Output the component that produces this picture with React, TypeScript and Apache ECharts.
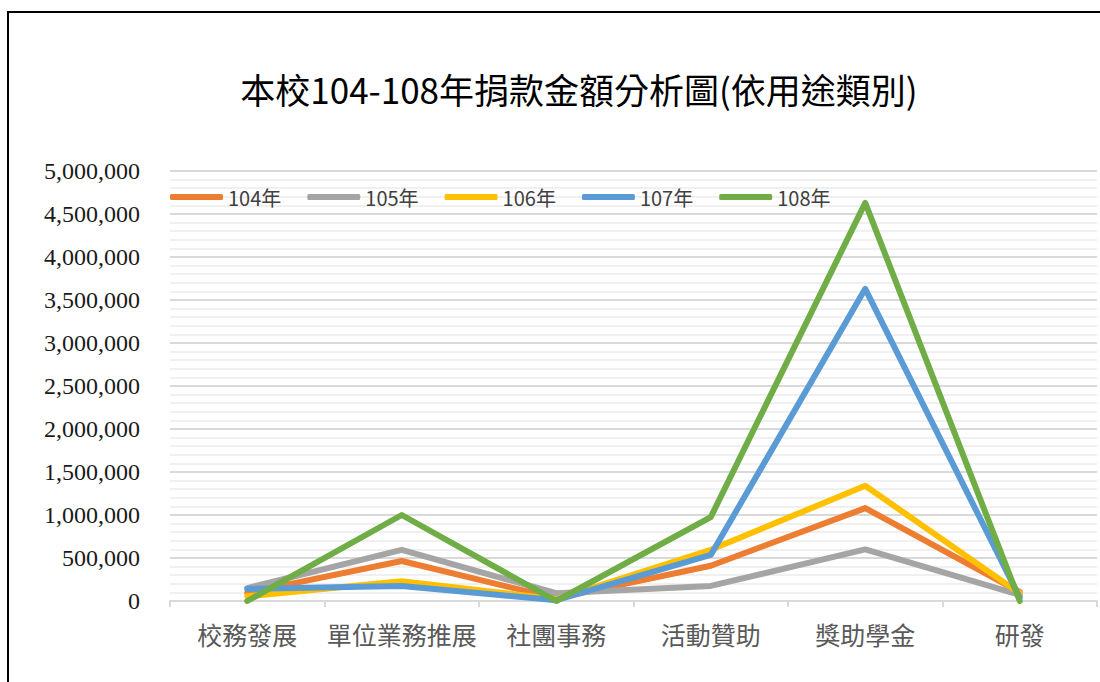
import React, { useEffect, useRef } from "react";
import * as echarts from "echarts";

const categories = ["校務發展", "單位業務推展", "社團事務", "活動贊助", "獎助學金", "研發"];
const seriesNames = ["104年", "105年", "106年", "107年", "108年"];
const y104 = [95000, 465000, 30000, 410000, 1080000, 105000];
const y105 = [150000, 595000, 90000, 175000, 600000, 70000];
const y106 = [55000, 230000, 20000, 595000, 1340000, 90000];
const y107 = [140000, 175000, 10000, 535000, 3630000, 40000];
const y108 = [0, 1000000, 0, 975000, 4630000, 0];
const colors = ["#ED7D31", "#A5A5A5", "#FFC000", "#5B9BD5", "#70AD47"];
const titleText = "本校104-108年捐款金額分析圖(依用途類別)";

export default function App() {
  const ref = useRef<HTMLDivElement>(null);
  useEffect(() => {
    if (!ref.current) return;
    const chart = echarts.init(ref.current, undefined, { renderer: "svg" });
    const data = [y104, y105, y106, y107, y108];
    chart.setOption({
      animation: false,
      backgroundColor: "#ffffff",
      title: {
        text: titleText,
        left: 574,
        textAlign: "center",
        top: 66,
        textStyle: {
          fontFamily: "Noto Sans CJK TC",
          fontSize: 35,
          fontWeight: "normal",
          color: "#000000",
        },
      },
      graphic: [
        {
          type: "rect",
          shape: { x: 8, y: 12, width: 1200, height: 800 },
          style: { fill: "none", stroke: "#000000", lineWidth: 2 },
          silent: true,
        },
      ],
      legend: {
        left: 170,
        top: 187,
        padding: 0,
        icon: "roundRect",
        itemWidth: 53,
        itemHeight: 6,
        itemGap: 26,
        textStyle: {
          fontFamily: "Noto Sans CJK TC",
          fontSize: 20,
          color: "#404040",
        },
        data: seriesNames,
      },
      grid: { left: 170, right: 3, top: 171, bottom: 81, containLabel: false },
      xAxis: {
        type: "category",
        data: categories,
        boundaryGap: true,
        axisLine: { lineStyle: { color: "#D9D9D9", width: 2 } },
        axisTick: { show: true, length: 6, lineStyle: { color: "#D9D9D9", width: 2 } },
        axisLabel: {
          interval: 0,
          margin: 20,
          fontFamily: "Noto Sans CJK TC",
          fontSize: 25,
          color: "#595959",
        },
      },
      yAxis: {
        type: "value",
        min: 0,
        max: 5000000,
        interval: 500000,
        axisLine: { show: false },
        axisTick: { show: false },
        axisLabel: {
          margin: 30,
          fontFamily: "Liberation Serif",
          fontSize: 24,
          color: "#1a1a1a",
          formatter: (v: number) => v.toLocaleString("en-US"),
        },
        splitLine: { lineStyle: { color: "#D9D9D9", width: 2 } },
        minorTick: { show: false, splitNumber: 5 },
        minorSplitLine: { show: true, lineStyle: { color: "#F0F0F0", width: 2 } },
      },
      series: seriesNames.map((name, i) => ({
        name,
        type: "line",
        data: data[i],
        symbol: "none",
        lineStyle: { color: colors[i], width: 6, cap: "round", join: "round" },
        itemStyle: { color: colors[i] },
        z: 2 + i,
      })),
    });
    return () => chart.dispose();
  }, []);
  return (
    <div
      ref={ref}
      style={{ position: "fixed", left: 0, top: 0, width: 1100, height: 682 }}
    />
  );
}
